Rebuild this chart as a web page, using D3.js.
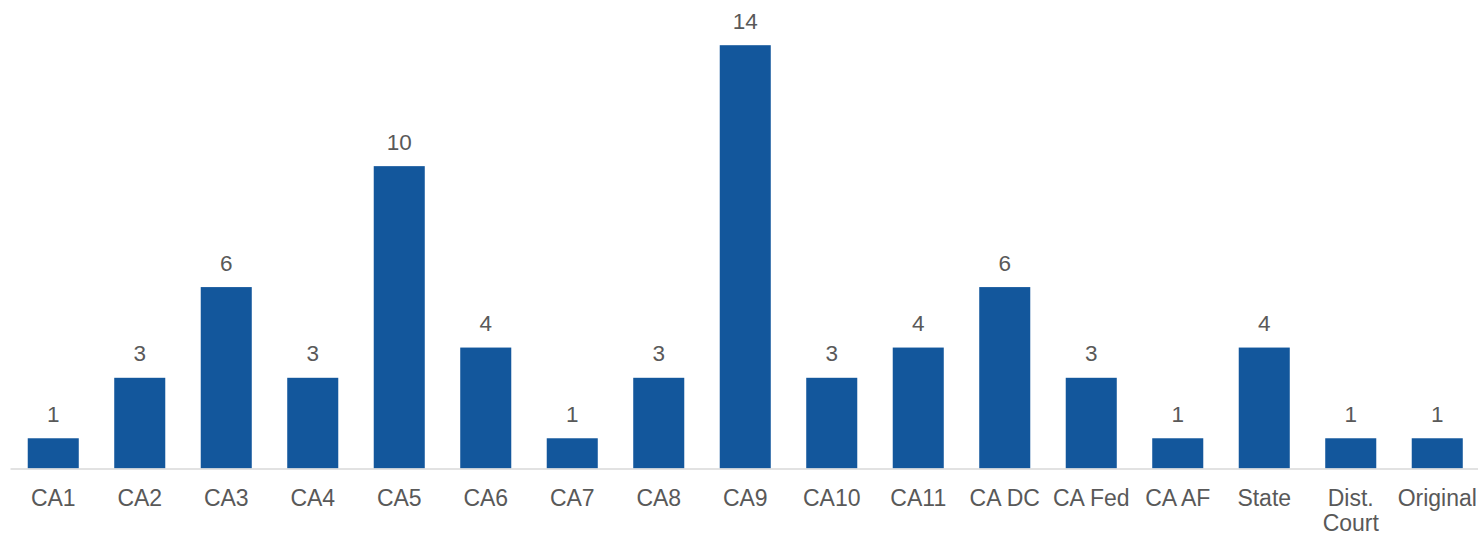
<!DOCTYPE html>
<html>
<head>
<meta charset="utf-8">
<script src="https://cdn.jsdelivr.net/npm/d3@7"></script>
<style>
  body { margin: 0; background: #fff; }
  svg text { font-family: "Liberation Sans", Arial, sans-serif; fill: #595959; }
</style>
</head>
<body>
<div id="chart"></div>
<script>
const categories = ['CA1', 'CA2', 'CA3', 'CA4', 'CA5', 'CA6', 'CA7', 'CA8', 'CA9', 'CA10',
  'CA11', 'CA DC', 'CA Fed', 'CA AF', 'State', 'Dist. Court', 'Original'];
const counts = [1, 3, 6, 3, 10, 4, 1, 3, 14, 3, 4, 6, 3, 1, 4, 1, 1];

const width = 1478;
const height = 533;

const x = d3.scaleBand()
  .domain(categories)
  .range([10, 1480.5])
  .paddingInner(0.41)
  .paddingOuter(0.205);

const y = d3.scaleLinear()
  .domain([0, 14])
  .range([468.5, 45.2]);

const svg = d3.select('#chart')
  .append('svg')
  .attr('width', width)
  .attr('height', height);

const data = categories.map((c, i) => ({ cat: c, value: counts[i] }));

// bars
svg.append('g')
  .selectAll('rect')
  .data(data)
  .join('rect')
  .attr('x', d => x(d.cat))
  .attr('y', d => y(d.value))
  .attr('width', x.bandwidth())
  .attr('height', d => y(0) - y(d.value))
  .attr('fill', '#13579c');

// value labels
svg.append('g')
  .selectAll('text')
  .data(data)
  .join('text')
  .attr('x', d => x(d.cat) + x.bandwidth() / 2)
  .attr('y', d => y(d.value) - 16.5)
  .attr('text-anchor', 'middle')
  .style('font-size', '22.5px')
  .text(d => d.value);

// x axis
const xAxis = svg.append('g')
  .attr('transform', `translate(0, ${y(0)})`)
  .call(d3.axisBottom(x).tickSize(0).tickPadding(0));

xAxis.select('.domain')
  .attr('stroke', '#d9d9d9')
  .attr('stroke-width', 1.5);

xAxis.selectAll('.tick text').remove();

// category labels, "Dist. Court" wraps onto two lines
xAxis.selectAll('.tick')
  .append('text')
  .attr('text-anchor', 'middle')
  .style('font-size', '23px')
  .selectAll('tspan')
  .data(d => d === 'Dist. Court' ? ['Dist.', 'Court'] : [d])
  .join('tspan')
  .attr('x', 0)
  .attr('y', (d, i) => 37.5 + i * 25)
  .text(d => d);
</script>
</body>
</html>
